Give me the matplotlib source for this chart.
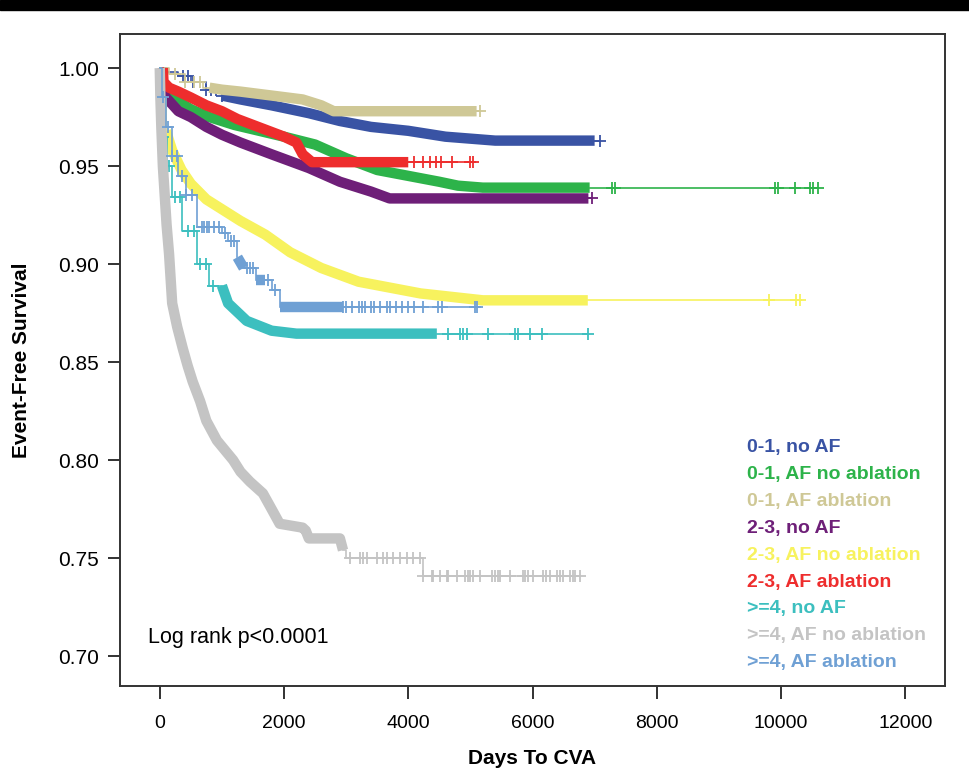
import numpy as np
import matplotlib
matplotlib.use("Agg")
import matplotlib.pyplot as plt
from matplotlib.patches import Rectangle

plt.rcParams['font.family'] = ['Liberation Sans', 'DejaVu Sans']

# ---------------- data ----------------
labels = ["0-1, no AF", "0-1, AF no ablation", "0-1, AF ablation",
          "2-3, no AF", "2-3, AF no ablation", "2-3, AF ablation",
          ">=4, no AF", ">=4, AF no ablation", ">=4, AF ablation"]
colors = ["#3953A4", "#2DB34A", "#CFC896", "#6E1F78", "#F7F25E",
          "#EE2D2D", "#3CBFBF", "#C4C4C4", "#6FA0D4"]

blue_t = [0, 100, 300, 500, 750, 1000, 1300, 1800, 2400, 2900, 3400, 4000, 4600, 5400, 7080]
blue_s = [1.0, 0.998, 0.996, 0.993, 0.989, 0.986, 0.984, 0.981, 0.977, 0.973, 0.970, 0.968, 0.965, 0.963, 0.963]
blue_dense = [(1000, 7000)]
blue_cens = [370, 450, 530, 750, 820, 900, 1000, 1130, 7080]

green_t = [0, 50, 150, 300, 500, 800, 1200, 1600, 2000, 2500, 3000, 3500, 4000, 4500, 4800, 5200, 10590]
green_s = [1.0, 0.993, 0.987, 0.983, 0.979, 0.975, 0.971, 0.968, 0.965, 0.961, 0.954, 0.948, 0.945, 0.942, 0.940, 0.939, 0.939]
green_dense = [(150, 6920)]
green_cens = [7280, 7330, 9900, 9950, 10220, 10470, 10520, 10590]

tan_t = [0, 150, 400, 700, 1000, 1300, 1800, 2300, 2600, 2800, 5150]
tan_s = [1.0, 0.997, 0.993, 0.990, 0.989, 0.988, 0.986, 0.984, 0.981, 0.978, 0.978]
tan_dense = [(800, 5100)]
tan_cens = [250, 400, 550, 650, 5150]

purple_t = [0, 30, 100, 300, 500, 750, 1000, 1300, 1800, 2400, 2900, 3400, 3700, 6950]
purple_s = [1.0, 0.990, 0.985, 0.978, 0.975, 0.970, 0.966, 0.962, 0.956, 0.949, 0.942, 0.937, 0.9335, 0.9335]
purple_dense = [(30, 6900)]
purple_cens = [6950]

yellow_t = [0, 20, 100, 200, 350, 500, 750, 1000, 1300, 1700, 2100, 2600, 3200, 3700, 4200, 5200, 10300]
yellow_s = [1.0, 0.985, 0.968, 0.958, 0.948, 0.941, 0.933, 0.928, 0.922, 0.915, 0.906, 0.898, 0.891, 0.888, 0.885, 0.8815, 0.8815]
yellow_dense = [(100, 6890)]
yellow_cens = [9800, 10240, 10300]

red_t = [0, 60, 150, 300, 500, 750, 1000, 1250, 1500, 1750, 2000, 2200, 2300, 2450, 5050]
red_s = [1.0, 0.993, 0.990, 0.988, 0.985, 0.981, 0.978, 0.974, 0.971, 0.968, 0.965, 0.962, 0.956, 0.952, 0.952]
red_dense = [(50, 4000)]
red_cens = [4100, 4230, 4350, 4450, 4530, 4700, 4990, 5050]

teal_t = [0, 20, 60, 120, 200, 350, 600, 800, 1100, 1400, 1800, 2200, 6900]
teal_s = [1.0, 0.985, 0.965, 0.950, 0.934, 0.917, 0.900, 0.889, 0.880, 0.871, 0.866, 0.8645, 0.8645]
teal_dense = [(1000, 4460)]
teal_cens = [60, 150, 250, 330, 450, 550, 650, 750, 850, 4640, 4830, 4880, 4940,
             5280, 5720, 5770, 5960, 6150, 6890]

gray_t = [0, 10, 25, 50, 80, 110, 150, 200, 280, 370, 450, 530, 650, 750, 920, 1050, 1180,
          1300, 1450, 1660, 1800, 1930, 2300, 2350, 2400, 2900, 2950, 3000, 4230, 6760]
gray_s = [1.0, 0.985, 0.970, 0.950, 0.935, 0.920, 0.905, 0.880, 0.868, 0.857, 0.848, 0.840,
          0.830, 0.820, 0.810, 0.805, 0.800, 0.794, 0.789, 0.783, 0.775, 0.7675, 0.7655,
          0.764, 0.760, 0.760, 0.754, 0.750, 0.741, 0.741]
gray_dense = [(0, 2950)]
gray_cens = [3060, 3220, 3270, 3330, 3490, 3590, 3650, 3750, 3860, 3980, 4070, 4190,
             4240, 4380, 4400, 4510, 4620, 4640, 4780, 4910, 4960, 4990, 5040, 5150,
             5350, 5400, 5440, 5470, 5640, 5840, 5880, 5930, 6010, 6170, 6220, 6280,
             6390, 6440, 6490, 6600, 6650, 6680, 6760]

lblue_t = [0, 30, 100, 200, 300, 420, 600, 1000, 1100, 1250, 1350, 1550, 1800, 1930, 5100]
lblue_s = [1.0, 0.985, 0.970, 0.955, 0.945, 0.935, 0.919, 0.916, 0.912, 0.9035, 0.898,
           0.892, 0.887, 0.878, 0.878]
lblue_dense = [(1250, 1350), (1550, 1700), (1930, 2950)]
lblue_cens = [50, 130, 200, 280, 350, 430, 520, 680, 720, 760, 800, 870, 950, 1050, 1150,
              1200, 1400, 1450, 1500, 1750, 1850, 2950, 3000, 3100, 3200, 3250, 3300,
              3400, 3450, 3550, 3650, 3700, 3800, 3900, 4000, 4100, 4230, 4480, 4540,
              5070, 5100]

series = [
    (blue_t, blue_s, blue_dense, blue_cens),
    (green_t, green_s, green_dense, green_cens),
    (tan_t, tan_s, tan_dense, tan_cens),
    (purple_t, purple_s, purple_dense, purple_cens),
    (yellow_t, yellow_s, yellow_dense, yellow_cens),
    (red_t, red_s, red_dense, red_cens),
    (teal_t, teal_s, teal_dense, teal_cens),
    (gray_t, gray_s, gray_dense, gray_cens),
    (lblue_t, lblue_s, lblue_dense, lblue_cens),
]

x_ticks = [0, 2000, 4000, 6000, 8000, 10000, 12000]
y_ticks = [0.70, 0.75, 0.80, 0.85, 0.90, 0.95, 1.00]


def surv_at(t, s, x):
    t = np.asarray(t, float)
    s = np.asarray(s, float)
    idx = np.searchsorted(t, x, side='right') - 1
    idx = np.clip(idx, 0, len(s) - 1)
    return s[idx]


def segment(t, s, a, b):
    t = np.asarray(t, float)
    s = np.asarray(s, float)
    m = (t > a) & (t < b)
    tt = np.concatenate([[a], t[m], [b]])
    ss = np.concatenate([[surv_at(t, s, a)], s[m], [surv_at(t, s, b)]])
    return tt, ss


def complement(dense, end):
    out = []
    cur = 0.0
    for a, b in sorted(dense):
        if a > cur:
            out.append((cur, a))
        cur = max(cur, b)
    if cur < end:
        out.append((cur, end))
    return out


# ---------------- figure ----------------
W, H = 970, 769
fig = plt.figure(figsize=(W / 100, H / 100), dpi=100)
fig.patches.append(Rectangle((0, 1 - 10 / H), 1, 10 / H, transform=fig.transFigure,
                             color='black', zorder=0))
ax = fig.add_axes([120 / W, 1 - 686 / H, 825 / W, 652 / H])

for (t, s, dense, cens), col in zip(series, colors):
    for a, b in complement(dense, t[-1]):
        tt, ss = segment(t, s, a, b)
        ax.step(tt, ss, where='post', color=col, lw=1.2, zorder=2)
    for a, b in dense:
        tt, ss = segment(t, s, a, b)
        ax.plot(tt, ss, color=col, lw=7.5, zorder=2, solid_capstyle='butt',
                solid_joinstyle='round')
    cy = surv_at(t, s, np.asarray(cens, float))
    ax.plot(cens, cy, ls='none', marker='+', ms=9, mew=1.3, color=col, zorder=2)

ax.set_xlim(-640, 12640)
ax.set_ylim(0.6847, 1.0174)
ax.set_xticks(x_ticks)
ax.set_xticklabels([str(v) for v in x_ticks], fontsize=14)
ax.set_yticks(y_ticks)
ax.set_yticklabels(["%.2f" % v for v in y_ticks], fontsize=15)
ax.tick_params(axis='both', direction='out', length=9, width=1.3, color='#222222')
ax.tick_params(axis='x', pad=12)
ax.tick_params(axis='y', pad=6)
for sp in ax.spines.values():
    sp.set_linewidth(1.4)
    sp.set_color('#333333')

ax.set_xlabel("Days To CVA", fontsize=15, fontweight='bold', labelpad=12)
ax.set_ylabel("Event-Free Survival", fontsize=15, fontweight='bold', labelpad=20)

ax.text((148 - 120) / 825, 1 - (638 - 34) / 652, "Log rank p<0.0001",
        transform=ax.transAxes, fontsize=15.5, va='center', ha='left')

y0 = 448
dy = 26.8
for i, (lab, col) in enumerate(zip(labels, colors)):
    py = y0 + i * dy
    ax.text((747 - 120) / 825, 1 - (py - 34) / 652, lab, transform=ax.transAxes,
            color=col, fontsize=14, fontweight='bold', va='center', ha='left')

fig.savefig("out.png", dpi=100)
